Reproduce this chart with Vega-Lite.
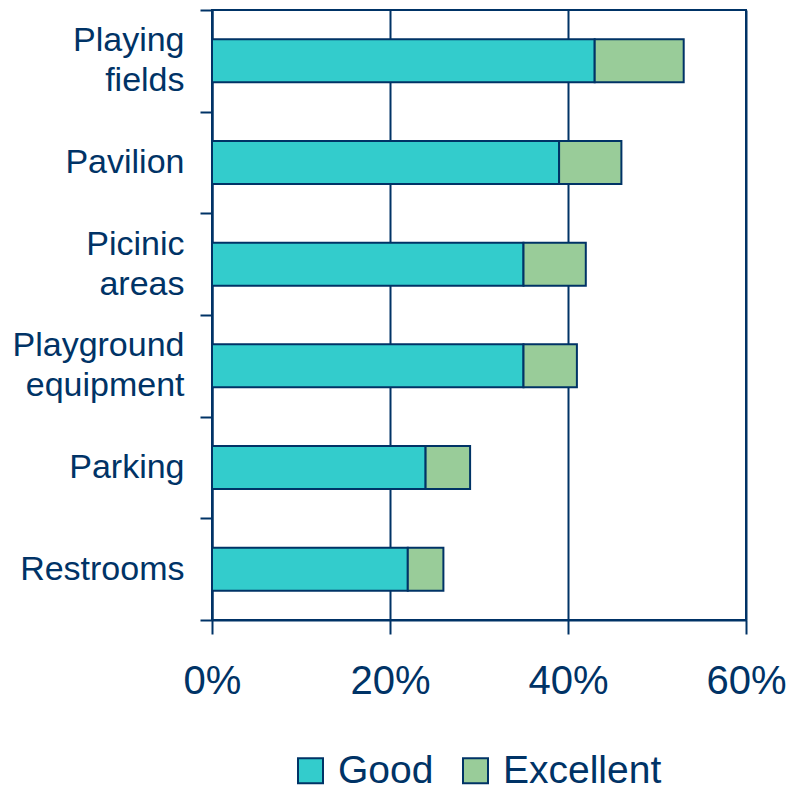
{
  "$schema": "https://vega.github.io/schema/vega-lite/v6.json",
  "autosize": {"type": "none"},
  "padding": {"left": 212, "top": 10, "right": 56, "bottom": 167},
  "width": 534,
  "height": 610,
  "background": "white",
  "config": {
    "font": "Liberation Sans",
    "view": {"stroke": "#003366", "strokeWidth": 2}
  },
  "data": {
    "values": [
      {"item": "Playing fields", "series": "Good", "value": 0.43},
      {"item": "Playing fields", "series": "Excellent", "value": 0.10},
      {"item": "Pavilion", "series": "Good", "value": 0.39},
      {"item": "Pavilion", "series": "Excellent", "value": 0.07},
      {"item": "Picinic areas", "series": "Good", "value": 0.35},
      {"item": "Picinic areas", "series": "Excellent", "value": 0.07},
      {"item": "Playground equipment", "series": "Good", "value": 0.35},
      {"item": "Playground equipment", "series": "Excellent", "value": 0.06},
      {"item": "Parking", "series": "Good", "value": 0.24},
      {"item": "Parking", "series": "Excellent", "value": 0.05},
      {"item": "Restrooms", "series": "Good", "value": 0.22},
      {"item": "Restrooms", "series": "Excellent", "value": 0.04}
    ]
  },
  "mark": {"type": "bar", "stroke": "#003366", "strokeWidth": 2, "size": 43},
  "encoding": {
    "y": {
      "field": "item",
      "type": "nominal",
      "sort": null,
      "scale": {"paddingInner": 0, "paddingOuter": 0},
      "axis": {
        "title": null,
        "labelExpr": "indexof(datum.label, ' ') >= 0 ? [split(datum.label, ' ')[0], '\u200b', split(datum.label, ' ')[1]] : ['\u200b', datum.label]",
        "labelFontSize": 34,
        "labelLineHeight": 20,
        "labelBaseline": "bottom",
        "labelOffset": -3,
        "labelColor": "#003366",
        "labelPadding": 16,
        "labelLimit": 300,
        "labelOverlap": false,
        "tickBand": "extent",
        "tickSize": 12,
        "tickColor": "#003366",
        "tickWidth": 2,
        "domainColor": "#003366",
        "domainWidth": 2,
        "grid": false
      }
    },
    "x": {
      "field": "value",
      "type": "quantitative",
      "stack": "zero",
      "scale": {"domain": [0, 0.6], "nice": false},
      "axis": {
        "title": null,
        "format": "%",
        "values": [0, 0.2, 0.4, 0.6],
        "labelFontSize": 40,
        "labelColor": "#003366",
        "labelPadding": 27,
        "labelFlush": false,
        "tickSize": 14,
        "tickColor": "#003366",
        "tickWidth": 2,
        "domainColor": "#003366",
        "domainWidth": 2,
        "grid": true,
        "gridColor": "#003366",
        "gridWidth": 2,
        "gridOpacity": 1
      }
    },
    "color": {
      "field": "series",
      "type": "nominal",
      "scale": {"domain": ["Good", "Excellent"], "range": ["#33CCCC", "#99CC99"]},
      "legend": {
        "title": null,
        "orient": "none",
        "legendX": 79,
        "legendY": 741,
        "direction": "horizontal",
        "symbolType": "square",
        "symbolSize": 625,
        "symbolStrokeColor": "#003366",
        "symbolStrokeWidth": 2,
        "labelFontSize": 39,
        "labelLimit": 300,
        "labelColor": "#003366",
        "labelOffset": 8,
        "columnPadding": 22
      }
    },
    "order": {"field": "series", "sort": "descending"}
  }
}
